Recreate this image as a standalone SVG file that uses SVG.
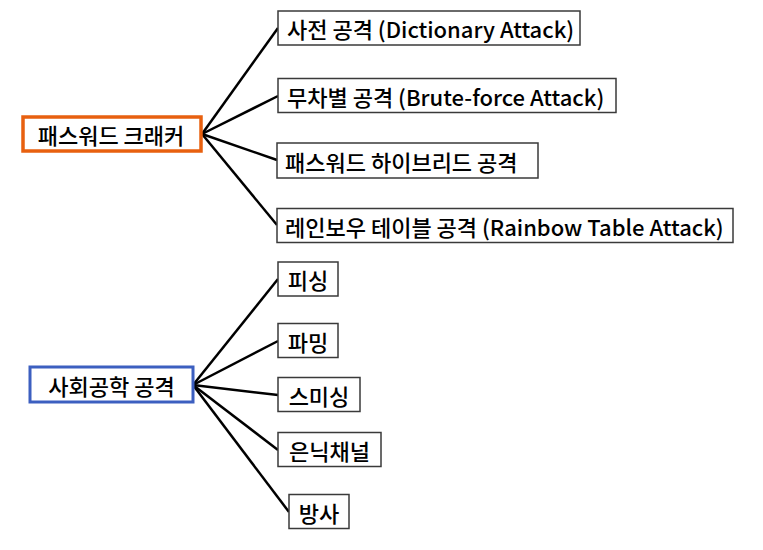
<svg xmlns="http://www.w3.org/2000/svg" width="763" height="550" viewBox="0 0 763 550">
<style>
.box{fill:#fff;stroke:#3a3a3a;stroke-width:1.5}
.t{font-family:"Noto Sans CJK KR","Noto Sans",sans-serif;font-size:22px;font-weight:500;fill:#000;dominant-baseline:central}
.c{stroke:#000;stroke-width:2.5;fill:none}
</style>
<rect width="763" height="550" fill="#fff"/>
<g id="connectors">
<path class="c" d="M202,134 L278,28"/>
<path class="c" d="M202,134 L278,96"/>
<path class="c" d="M202,134 L277,160"/>
<path class="c" d="M202,134 L277,225"/>
<path class="c" d="M193,385 L278,279"/>
<path class="c" d="M193,385 L278,341"/>
<path class="c" d="M193,385 L278,395"/>
<path class="c" d="M193,385 L278,450"/>
<path class="c" d="M193,385 L289,512"/>
</g>
<g id="cracker">
<rect x="23" y="117" width="178" height="34" fill="#fff" stroke="#E8600F" stroke-width="3.5"/>
<text class="t" x="111" y="134" text-anchor="middle">패스워드 크래커</text>
</g>
<g id="dict">
<rect class="box" x="278" y="11" width="302" height="34"/>
<text class="t" x="287" y="28">사전 공격 (Dictionary Attack)</text>
</g>
<g id="brute">
<rect class="box" x="278" y="78.500" width="338" height="34"/>
<text class="t" x="287" y="96">무차별 공격 (Brute-force Attack)</text>
</g>
<g id="hybrid">
<rect class="box" x="277" y="143" width="261" height="35"/>
<text class="t" x="285" y="160.500">패스워드 하이브리드 공격</text>
</g>
<g id="rainbow">
<rect class="box" x="277" y="208.500" width="456" height="34"/>
<text class="t" x="285" y="225.500">레인보우 테이블 공격 (Rainbow Table Attack)</text>
</g>
<g id="social">
<rect x="30" y="367" width="163" height="35" fill="#fff" stroke="#3C5FC0" stroke-width="3"/>
<text class="t" x="111.500" y="384.500" text-anchor="middle">사회공학 공격</text>
</g>
<g id="phishing">
<rect class="box" x="278" y="262" width="60" height="34"/>
<text class="t" x="308" y="279" text-anchor="middle">피싱</text>
</g>
<g id="pharming">
<rect class="box" x="278" y="323.500" width="60" height="34"/>
<text class="t" x="308" y="341" text-anchor="middle">파밍</text>
</g>
<g id="smishing">
<rect class="box" x="278" y="377.500" width="82" height="34"/>
<text class="t" x="319" y="395" text-anchor="middle">스미싱</text>
</g>
<g id="covert">
<rect class="box" x="278" y="432.500" width="103" height="34"/>
<text class="t" x="329.500" y="450" text-anchor="middle">은닉채널</text>
</g>
<g id="emanation">
<rect class="box" x="289" y="494.500" width="60" height="34"/>
<text class="t" x="319" y="512" text-anchor="middle">방사</text>
</g>
</svg>
